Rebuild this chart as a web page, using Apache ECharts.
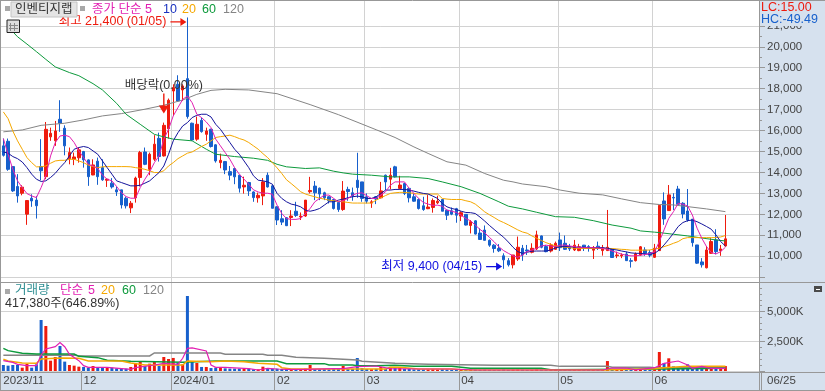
<!DOCTYPE html>
<html><head><meta charset="utf-8">
<style>html,body{margin:0;padding:0;background:#fff}#c{width:825px;height:391px}</style>
<script src="https://cdn.jsdelivr.net/npm/echarts@6/dist/echarts.min.js"></script>
</head><body><div id="c"></div>
<script>
const tradingDates = [
'2023-11-08','2023-11-09','2023-11-10','2023-11-13','2023-11-14','2023-11-15','2023-11-16','2023-11-17','2023-11-20','2023-11-21','2023-11-22','2023-11-23','2023-11-24','2023-11-27','2023-11-28','2023-11-29','2023-11-30',
'2023-12-01','2023-12-04','2023-12-05','2023-12-06','2023-12-07','2023-12-08','2023-12-11','2023-12-12','2023-12-13','2023-12-14','2023-12-15','2023-12-18','2023-12-19','2023-12-20','2023-12-21','2023-12-22','2023-12-26','2023-12-27','2023-12-28',
'2024-01-02','2024-01-03','2024-01-04','2024-01-05','2024-01-08','2024-01-09','2024-01-10','2024-01-11','2024-01-12','2024-01-15','2024-01-16','2024-01-17','2024-01-18','2024-01-19','2024-01-22','2024-01-23','2024-01-24','2024-01-25','2024-01-26','2024-01-29','2024-01-30','2024-01-31',
'2024-02-01','2024-02-02','2024-02-05','2024-02-06','2024-02-07','2024-02-08','2024-02-13','2024-02-14','2024-02-15','2024-02-16','2024-02-19','2024-02-20','2024-02-21','2024-02-22','2024-02-23','2024-02-26','2024-02-27','2024-02-28','2024-02-29',
'2024-03-04','2024-03-05','2024-03-06','2024-03-07','2024-03-08','2024-03-11','2024-03-12','2024-03-13','2024-03-14','2024-03-15','2024-03-18','2024-03-19','2024-03-20','2024-03-21','2024-03-22','2024-03-25','2024-03-26','2024-03-27','2024-03-28','2024-03-29',
'2024-04-01','2024-04-02','2024-04-03','2024-04-04','2024-04-05','2024-04-08','2024-04-09','2024-04-11','2024-04-12','2024-04-15','2024-04-16','2024-04-17','2024-04-18','2024-04-19','2024-04-22','2024-04-23','2024-04-24','2024-04-25','2024-04-26','2024-04-29','2024-04-30',
'2024-05-02','2024-05-03','2024-05-07','2024-05-08','2024-05-09','2024-05-10','2024-05-13','2024-05-14','2024-05-16','2024-05-17','2024-05-20','2024-05-21','2024-05-22','2024-05-23','2024-05-24','2024-05-27','2024-05-28','2024-05-29','2024-05-30','2024-05-31',
'2024-06-03','2024-06-04','2024-06-05','2024-06-07','2024-06-10','2024-06-11','2024-06-12','2024-06-13','2024-06-14','2024-06-17','2024-06-18','2024-06-19','2024-06-20','2024-06-21','2024-06-24','2024-06-25'];
const blankSlots = ['','','','','','',''];
const monthLabels = {'2023-11-08':'2023/11','2023-12-01':'12','2024-01-02':'2024/01','2024-02-01':'02','2024-03-04':'03','2024-04-01':'04','2024-05-02':'05','2024-06-03':'06'};
const lastDateLabel = '06/25';
// [open, close, low, high]
const ohlc = [
[15270,14820,14760,15620],[15490,14150,14080,15620],[14280,13120,13070,14280],[13330,12880,12560,13920],[13010,13300,12910,13390],[12010,12660,11500,12660],[12770,12640,12360,12960],[12680,12410,11800,12880],[14280,14080,13630,15590],[13800,16060,13680,16410],
[15700,15870,15510,16140],[15510,15980,15270,16460],[16540,16350,15940,17450],[16110,15270,14820,16250],[14660,14950,14390,15190],[14630,14740,14350,14950],[14700,15080,14470,15190],[15000,14600,14230,15030],[14600,13800,13360,14630],[13880,14360,13870,14630],
[14540,13800,13410,14710],[14230,13650,13600,14630],[13630,13680,13310,13710],[13490,13310,13230,13730],[13170,13070,12880,13330],[13170,12450,12280,13170],[12770,12410,12280,12850],[12310,12530,12060,12640],[12790,13730,12560,13800],[13760,14950,13330,15030],
[14980,14390,14350,15190],[14150,14870,13870,14950],[14630,15350,14550,15780],[15630,14760,14520,15900],[14790,16250,14760,16380],[16090,17450,15620,17530],[17890,18050,16700,18210],[18210,17410,17370,18640],[17940,18130,17410,18210],[18480,16670,16570,21400],
[16350,15550,15510,16380],[15590,16300,15510,16670],[16490,15950,15900,16620],[15820,15980,15510,16140],[16060,15240,15190,16090],[15320,14550,14470,15350],[14470,14580,14200,14900],[14520,14120,13920,14550],[14040,13870,13630,14310],[14190,13790,13440,14230],
[13870,13250,13040,13880],[13310,13390,12990,13800],[13520,13120,12880,13550],[13070,12800,12600,13100],[12790,12910,12560,13040],[12880,13550,12440,13730],[13870,13310,13280,14000],[13360,12290,12290,13390],[12360,11730,11490,12390],[11790,11630,11490,12200],
[11840,11460,11440,11850],[11850,11920,11440,12200],[12150,11950,11880,12600],[11880,11920,11730,12090],[11920,12680,11880,12680],[13080,13140,13000,13790],[13350,13030,12680,13590],[13250,12970,12680,13280],[13030,12790,12680,13080],[12840,12650,12520,12870],
[12710,12280,12230,12740],[12570,12230,12120,12600],[12230,13110,12170,13590],[13190,13090,12650,13320],[13030,12870,12650,13280],[13630,13280,12790,14940],[13550,12760,12600,13550],[12840,12630,12520,13000],[12540,12600,12310,12680],[12840,12730,12490,12870],
[12790,13120,12760,13550],[13870,13550,13160,13900],[13680,13870,13190,14220],[14270,13790,13760,14320],[13240,13400,13190,13840],[13470,13000,12920,13510],[13240,12790,12570,13270],[12840,12630,12600,13000],[12710,12280,12230,12760],[12410,12230,12170,12840],
[12270,12350,12250,12920],[12330,12660,12080,12760],[12550,12630,12490,12890],[12710,12150,12150,12730],[12200,11960,11730,12230],[12170,12010,11960,12330],[12270,11960,11600,12310],[11920,12080,11680,12150],[12000,11490,11470,12010],[11470,11650,11090,11730],
[11690,11060,11040,11730],[11110,10800,10790,11330],[11250,10760,10760,11470],[10760,10530,10450,10800],[10530,10370,10170,10580],[10370,10260,10200,10580],[10020,9830,9400,10140],[9790,9590,9510,9910],[9590,10060,9420,10060],[9870,10430,9780,10940],
[10380,10060,9780,10540],[10300,10250,10060,10540],[10190,10380,10140,10620],[10350,11020,10300,11220],[10970,10430,10380,10990],[10460,10220,10190,10540],[10250,10540,10180,10620],[10330,10620,10300,10700],[10780,10410,10250,11130],[10620,10330,10300,10990],
[10460,10350,10250,10590],[10300,10530,10250,10780],[10270,10450,10240,10590],[10530,10380,10250,10540],[10460,10380,10220,10530],[10290,10410,9870,10490],[10480,10370,10300,10700],[10270,10400,10030,10540],[10270,10430,10250,12210],[10330,9940,9920,10350],
[10030,10060,9910,10220],[10020,10060,9910,10140],[10110,9790,9780,10220],[9790,9760,9460,9910],[9790,10110,9750,10180],[10060,10450,10020,10490],[10300,10140,10020,10430],[10180,10050,9950,10300],[9950,10380,9920,10590],[10270,12430,10250,12450],
[12640,11780,11500,13050],[12180,12930,12160,13400],[12810,12780,12210,13010],[13210,12480,12450,13360],[12530,12020,11810,12580],[12160,11730,11650,13210],[11770,10650,10460,11780],[10540,9670,9630,10540],[9730,9590,9460,9910],[9450,10300,9420,10490],
[10140,10700,10110,10860],[10780,10220,10090,11290],[10270,10350,10020,10540],[10490,10830,10460,11970]];
const ma5 = [15620,14870,14150,13600,13280,12990,12880,12800,13280,13840,14790,15430,15740,15780,15710,15430,15030,14710,14390,14310,14190,13870,13680,13600,13330,13040,12850,12770,12770,13280,13680,14030,14470,14790,15590,16060,16700,17100,17490,17650,17330,16780,16620,16410,16140,15590,15270,14950,14630,14230,13920,13680,13440,13170,13070,13010,13010,12960,
12440,12040,11800,11760,11760,11800,12040,12280,12600,12760,12920,12920,12760,12600,12650,12760,12920,13000,13030,12890,12760,12760,12920,13080,13390,13550,13550,13550,13240,13000,12760,12570,12490,12430,12440,12390,12200,12150,12090,11960,11800,11690,11490,11280,11120,10900,10690,10450,
10270,10140,10020,9950,10060,10220,10300,10380,10490,10530,10490,10460,10530,10530,10490,10460,10410,10410,10410,10410,10400,10370,10330,10250,10180,10100,10050,10020,10020,10050,10080,10130,10220,10700,11260,11810,12130,12530,12480,12400,11970,11340,10860,10460,10180,10110,10220,10430];
const ma10 = [14980,14920,14760,14660,14500,14230,13920,13680,13570,13600,13760,13960,14230,14470,14790,15110,15190,15240,15190,15030,14870,14550,14230,13920,13600,13520,13440,13360,13360,13390,13490,13600,13800,14000,14310,14870,15510,15900,16220,16380,16620,16730,16780,16780,16650,16300,16060,15740,15430,15110,14870,14550,14230,13840,13630,13600,13550,13440,
13000,12760,12600,12490,12440,12360,12200,12150,12200,12280,12440,12600,12600,12680,12730,12790,12840,12870,12840,12760,12760,12840,13000,13160,13160,13190,13190,13190,13160,13110,13050,13000,12970,12870,12760,12520,12360,12280,12230,12150,12090,12080,12040,11870,11680,11470,11280,11090,
10910,10680,10430,10220,10140,10190,10240,10250,10250,10250,10300,10400,10460,10460,10460,10430,10430,10430,10410,10410,10410,10410,10380,10330,10300,10250,10210,10160,10140,10140,10110,10100,10140,10300,10540,10810,11100,11420,11610,11700,11730,11650,11540,11420,11290,11020,10700,10490];
const ma20 = [16890,16570,15980,15510,15110,14710,14470,14270,14270,14310,14440,14550,14580,14580,14630,14630,14550,14470,14350,14280,14230,14270,14280,14280,14280,14280,14280,14270,14230,14200,14150,14080,14000,14000,14080,14310,14470,14660,14790,14920,14980,15110,15240,15350,15510,15670,15710,15740,15780,15710,15620,15550,15430,15270,15110,14900,14710,14470,
14220,13950,13650,13470,13280,13080,12970,12900,12840,12770,12730,12680,12650,12620,12600,12570,12540,12540,12540,12540,12540,12680,12790,12900,13000,13030,13050,13050,13030,13000,12970,12970,12970,12970,12970,12760,12730,12710,12710,12710,12650,12600,12490,12310,12120,11980,11850,11710,
11610,11500,11380,11260,11160,11100,10970,10860,10750,10650,10570,10490,10460,10430,10410,10380,10380,10370,10370,10370,10370,10370,10370,10370,10350,10330,10320,10290,10290,10290,10290,10300,10350,10380,10460,10530,10620,10700,10840,10890,10890,10890,10890,10890,10890,10890,10920,10990];
const ma60Points = [[1,20960],[3,20480],[5,20130],[7,19770],[9,19400],[11,19040],[14,18770],[16,18620],[19,18240],[21,17940],[24,17300],[26,16780],[29,16300],[32,15820],[34,15700],[36,15590],[40,15510],[43,15110],[45,14870],[49,14760],[53,14680],[56,14580],[58,14390],[60,14270],[64,14190],[67,14220],[70,14060],[72,13980],[74,13920],[78,13870],[82,13790],[86,13790],[90,13710],[93,13550],[97,13320],[101,13000],[105,12600],[107,12390],[110,12260],[113,12100],[117,11890],[121,11860],[125,11700],[129,11490],[133,11340],[135,11210],[138,11150],[139,11130],[142,11050],[145,10970],[148,10870],[151,10780],[153,10730]];
const ma120Points = [[0,15940],[4,16030],[8,16250],[13,16350],[17,16510],[21,16700],[25,16810],[30,17020],[34,17210],[38,17460],[41,17730],[44,17920],[47,17970],[52,17940],[58,17760],[65,17240],[71,16760],[79,16040],[83,15670],[87,15220],[90,14910],[94,14510],[98,14350],[102,13950],[106,13630],[108,13550],[110,13450],[115,13320],[118,13160],[122,13010],[127,12930],[131,12740],[135,12560],[139,12470],[142,12450],[145,12370],[149,12260],[153,12130]];
// volume in thousands of shares
const volumes = [505,450,505,505,280,590,280,560,4300,3790,870,1180,2110,790,505,450,365,340,280,420,310,310,280,280,225,200,200,340,650,790,420,620,760,420,1180,1010,1100,700,560,6320,760,675,340,340,250,280,340,225,200,200,200,200,200,140,140,365,225,200,
200,170,150,150,170,150,200,505,170,150,170,140,170,180,420,170,180,1095,240,170,150,180,340,180,340,250,280,170,170,140,150,130,130,150,120,170,130,110,130,110,130,110,120,100,120,100,90,90,130,100,120,130,110,90,100,130,110,90,100,100,120,100,90,100,100,90,90,110,90,90,840,150,110,100,120,100,100,130,120,110,170,1600,675,1070,390,280,225,560,225,225,280,225,225,200,225,417];
const volMa5Points = [[0,870],[2,730],[3,560],[5,450],[7,450],[8,1350],[9,1855],[11,2050],[12,2390],[13,2050],[14,1405],[16,870],[17,450],[18,310],[22,310],[27,140],[28,280],[32,505],[34,645],[37,560],[38,1070],[39,1910],[40,1940],[43,1685],[44,505],[45,310],[47,310],[52,200],[54,85],[56,225],[58,170],[60,140],[64,140],[70,200],[72,200],[75,365],[79,420],[82,200],[88,170],[95,170],[100,85],[124,85],[127,85],[129,250],[132,250],[134,100],[138,280],[140,645],[143,840],[145,505],[146,225],[148,390],[150,225],[153,225]];
const volMa20Points = [[0,990],[1,840],[4,675],[7,645],[8,1010],[12,1095],[16,1070],[18,840],[25,840],[27,675],[30,505],[38,505],[39,840],[44,785],[47,840],[51,785],[54,645],[58,560],[59,280],[61,170],[81,170],[82,310],[84,310],[88,170],[95,170],[98,85],[127,85],[138,200],[140,280],[145,390],[153,390]];
const volMa60Points = [[0,1910],[1,1715],[4,1490],[7,1435],[15,1435],[16,1235],[20,1125],[22,900],[27,815],[38,730],[45,840],[58,840],[60,620],[68,620],[69,505],[74,505],[75,450],[79,450],[83,480],[87,390],[95,390],[99,225],[114,225],[116,110],[140,170],[153,225]];
const volMa120Points = [[0,1320],[15,1350],[16,1265],[31,1265],[32,1520],[46,1520],[47,1405],[55,1405],[56,1320],[59,1320],[62,1150],[68,1070],[75,930],[76,815],[83,645],[90,560],[104,480],[116,480],[118,390],[128,390],[129,310],[137,310],[138,280],[153,280]];
const priceTicks = {min:9000,max:22000,step:1000};
const volTicks = {min:0,max:7500,step:2500};

const RED='#ee1b0e',BLUE='#1760cc',MAG='#e21fb2',NAVY='#14149c',ORG='#f5a800',GRN='#0d9a3c',GRY='#858585',STRIP='#d6e1ee',LINE='#d2d2d2',EDGE='#989898',TXT='#444';
const FONT='"Liberation Sans","Noto Sans CJK KR",sans-serif';
const categories = tradingDates.concat(blankSlots);
const isMonthStart = (i,v)=>i>0 && !!monthLabels[categories[i]];
const isLabelled = (i,v)=>!!monthLabels[categories[i]];
const gridL=1,gridW=759.8;

const lineSeries=(name,data,color,xi,yi,w)=>({name,type:'line',xAxisIndex:xi,yAxisIndex:yi,data,symbol:'none',silent:true,animation:false,
  lineStyle:{color,width:w,cap:'butt',join:'miter'},z:xi===0?4:3});

const txt=(x,y,text,fill,size,opts)=>Object.assign({type:'text',x,y,z:100,silent:true,style:{text,fill,font:`${size||12}px ${FONT}`,textVerticalAlign:'middle'}},opts||{});
const rect=(x,y,w,h,fill,z)=>({type:'rect',x,y,z:z==null?-5:z,silent:true,shape:{width:w,height:h},style:{fill}});
const hl=(y,x1,x2,c,z)=>({type:'line',z:z||50,silent:true,shape:{x1,y1:y+.5,x2,y2:y+.5},style:{stroke:c||EDGE,lineWidth:1}});
const vl=(x,y1,y2,c,z)=>({type:'line',z:z||50,silent:true,shape:{x1:x+.5,y1,x2:x+.5,y2},style:{stroke:c||EDGE,lineWidth:1}});

const graphics=[
 rect(760,0,65,391,STRIP),rect(0,372,825,19,STRIP),
 hl(0,0,825),hl(282,0,825),hl(372,0,825),hl(390,0,825),vl(0,0,391),vl(759,0,391),
 // header
 rect(5,6,5,5,'#a8a8a8',90),
 {type:'rect',x:11,y:2,z:90,silent:true,shape:{width:66,height:15},style:{fill:'#e4e4e4',stroke:'#c4c4c4',lineWidth:1}},
 txt(15,10,'인벤티지랩','#333',12.5),
 rect(80,6,5,5,'#a8a8a8',90),
 txt(92,10,'종가 단순 5',MAG,12.5),txt(163,10,'10','#1a32c0',12.5),txt(182,10,'20',ORG,12.5),txt(202,10,'60',GRN,12.5),txt(223,10,'120',GRY,12.5),
 // table icon
 {type:'rect',x:7,y:20,z:90,silent:true,shape:{width:12.5,height:12.5},style:{fill:'#ddd',stroke:'#222',lineWidth:1}},
 vl(10,23,31,'#888',95),vl(14,23,31,'#888',95),hl(25,9,18,'#888',95),hl(28,9,18,'#888',95),
 // LC / HC
 rect(760,1,65,25,STRIP,95),
 txt(761,8,'LC:15.00',RED,12.5),txt(761,20,'HC:-49.49',BLUE,12.5),
 // volume header
 rect(5,289,5,5,'#a8a8a8',90),
 txt(15,291,'거래량','#2f8f93',12.5),txt(60,291,'단순',MAG,12.5),txt(88,291,'5',MAG,12.5),txt(101,291,'20',ORG,12.5),txt(122,291,'60',GRN,12.5),txt(143,291,'120',GRY,12.5),
 txt(5,304,'417,380주(646.89%)','#333',12.5),
 // close button and last-date label
 rect(814,286,8,6,'#4a4a4a',90),
 hl(289,816,820,'#fff',95),
 txt(767,381,lastDateLabel,TXT,11.5)
];

const chart=echarts.init(document.getElementById('c'),null,{renderer:'canvas'});
const arrowR='path://M0 3.4H10V0L16 4L10 8V4.6H0Z';
const arrowD='path://M4.3 0H5.7V12H10L5 20L0 12H4.3Z';
chart.setOption({
 animation:false,
 backgroundColor:'#fff',
 textStyle:{fontFamily:FONT},
 graphic:graphics,
 grid:[
  {left:gridL,width:gridW,top:4.9,height:272.3,containLabel:false},
  {left:gridL,width:gridW,top:282,height:89,containLabel:false},
  {left:gridL,width:gridW,top:1,height:371,containLabel:false}
 ],
 xAxis:[
  {type:'category',gridIndex:0,data:categories,axisLine:{show:false},axisTick:{show:false},axisLabel:{show:false},splitLine:{show:false}},
  {type:'category',gridIndex:1,data:categories,axisLine:{show:false},
   axisTick:{show:true,interval:isMonthStart,length:19,lineStyle:{color:EDGE,width:1}},
   axisLabel:{show:true,interval:isLabelled,align:'left',margin:4,fontSize:11.5,color:TXT,fontFamily:FONT,hideOverlap:false,formatter:v=>monthLabels[v]||''},
   splitLine:{show:false}},
  {type:'category',gridIndex:2,data:categories,axisLine:{show:false},axisTick:{show:false},axisLabel:{show:false},
   splitLine:{show:true,interval:isMonthStart,showMinLine:false,showMaxLine:false,lineStyle:{color:LINE,width:1}}}
 ],
 yAxis:[
  {type:'value',gridIndex:0,position:'right',offset:-1.8,min:priceTicks.min,max:priceTicks.max,interval:priceTicks.step,
   axisLine:{show:true,lineStyle:{color:EDGE}},
   axisTick:{show:true,length:6,lineStyle:{color:EDGE}},
   minorTick:{show:true,splitNumber:2,length:3,lineStyle:{color:EDGE}},
   axisLabel:{show:true,margin:8,fontSize:11.5,color:TXT,fontFamily:FONT,showMinLabel:false,showMaxLabel:false},
   splitLine:{show:true,showMaxLine:false,lineStyle:{color:LINE,width:1}}},
  {type:'value',gridIndex:1,position:'right',offset:-1.8,min:volTicks.min,max:volTicks.max,interval:volTicks.step,
   axisLine:{show:true,lineStyle:{color:EDGE}},
   axisTick:{show:true,length:6,lineStyle:{color:EDGE}},
   minorTick:{show:true,splitNumber:5,length:3,lineStyle:{color:EDGE}},
   axisLabel:{show:true,margin:8,fontSize:11.5,color:TXT,fontFamily:FONT,showMinLabel:false,showMaxLabel:false,
     formatter:v=>String(v).replace(/\B(?=(\d{3})+$)/g,',')+'K'},
   splitLine:{show:true,showMaxLine:false,lineStyle:{color:LINE,width:1}}},
  {type:'value',gridIndex:2,show:false,min:0,max:1}
 ],
 series:[
  {type:'candlestick',name:'price',xAxisIndex:0,yAxisIndex:0,data:ohlc,barWidth:3,z:2,silent:true,animation:false,
   itemStyle:{color:RED,color0:BLUE,borderColor:RED,borderColor0:BLUE,borderWidth:1},
   markPoint:{silent:true,animation:false,z:6,data:[
     {coord:[39,21400],symbol:arrowR,symbolSize:[16,8],symbolOffset:[-9,4.5],itemStyle:{color:RED},
      label:{show:true,position:'left',distance:4,color:RED,fontSize:12.5,fontFamily:FONT,formatter:'최고 21,400 (01/05)'}},
     {coord:[106,9400],symbol:arrowR,symbolSize:[16,8],symbolOffset:[-9.5,-2.2],itemStyle:{color:'#1010e0'},
      label:{show:true,position:'left',distance:4,color:'#1010e0',fontSize:12.5,fontFamily:FONT,formatter:'최저 9,400 (04/15)'}},
     {coord:[34,17290],symbol:arrowD,symbolSize:[10,20],itemStyle:{color:RED},
      label:{show:true,position:'top',distance:2,color:'#333',fontSize:12.5,fontFamily:FONT,formatter:'배당락(0.00%)'}}
   ]}},
  lineSeries('ma120',ma120Points,GRY,0,0,1),
  lineSeries('ma60',ma60Points,GRN,0,0,1),
  lineSeries('ma20',ma20,ORG,0,0,1),
  lineSeries('ma10',ma10,NAVY,0,0,1),
  lineSeries('ma5',ma5,MAG,0,0,1),
  {type:'bar',name:'volume',xAxisIndex:1,yAxisIndex:1,barWidth:3,silent:true,animation:false,z:2,
   data:volumes.map((v,i)=>({value:v,itemStyle:{color:ohlc[i][1]>=ohlc[i][0]?RED:BLUE}}))},
  lineSeries('volMa120',volMa120Points,GRY,1,1,1.5),
  lineSeries('volMa60',volMa60Points,GRN,1,1,1.5),
  lineSeries('volMa20',volMa20Points,ORG,1,1,1.5),
  lineSeries('volMa5',volMa5Points,MAG,1,1,1.2)
 ]
});
</script></body></html>
